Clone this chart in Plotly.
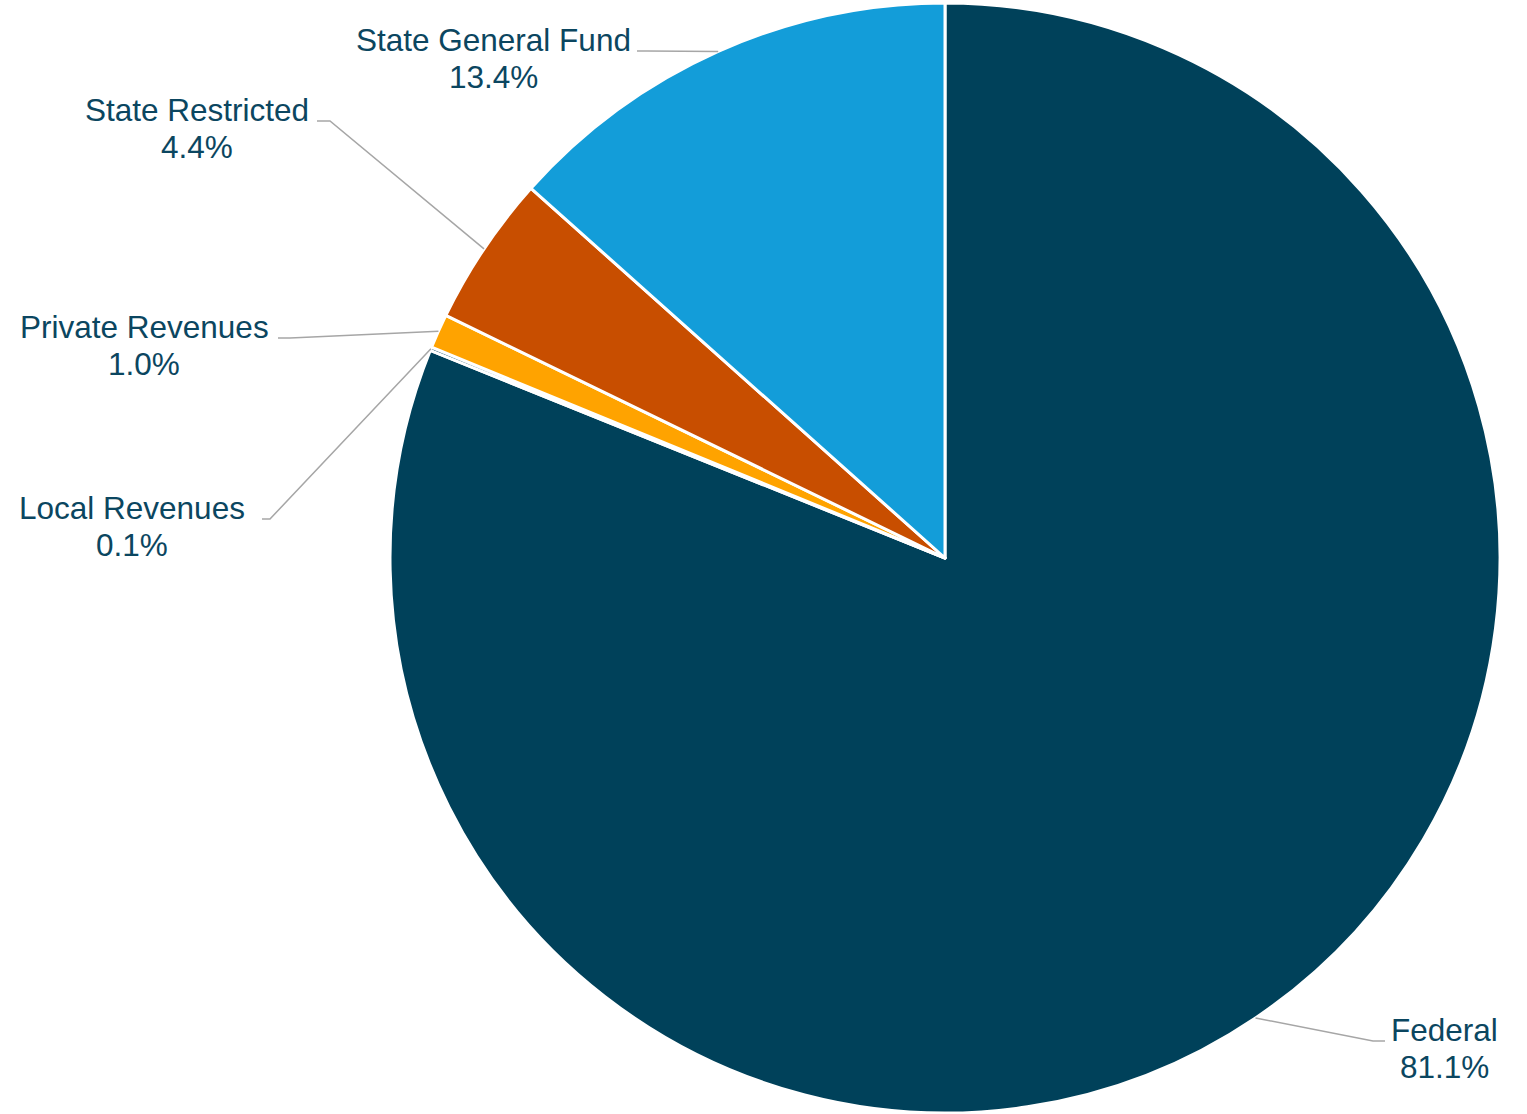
import math
import plotly.graph_objects as go

# ---- data ----
categories = ["Federal", "Local Revenues", "Private Revenues", "State Restricted", "State General Fund"]
shares = [81.1, 0.1, 1.0, 4.4, 13.4]
colors = ["#00415A", "#00415A", "#FFA300", "#C84E00", "#139DD9"]

# ---- layout constants (pixels) ----
W, H = 1527, 1114
CX, CY, R = 945, 558, 555
TEXT_COLOR = "#0B4660"
LEADER_COLOR = "#A6A6A6"
FONT = "Liberation Sans, Arial, sans-serif"
FS = 31.5
LINE_GAP = 37

# label placement: (center x, first line center y, leader start x, leader elbow x)
label_layout = {
    "State General Fund": (493, 40, 637, 647),
    "State Restricted": (197, 110, 317, 330),
    "Private Revenues": (144, 327, 278, 290),
    "Local Revenues": (132, 508, 262, 270),
    "Federal": (1444, 1030, 1385, 1373),
}


def px(x):
    return x / W


def py(y):
    return 1 - y / H


fig = go.Figure(
    go.Pie(
        labels=categories,
        values=shares,
        sort=False,
        direction="clockwise",
        rotation=0,
        textinfo="none",
        marker=dict(colors=colors, line=dict(color="white", width=3)),
        domain=dict(x=[px(CX - R), px(CX + R)], y=[py(CY + R), py(CY - R)]),
        showlegend=False,
        hovertemplate="%{label}: %{value:.1f}%<extra></extra>",
    )
)

total = sum(shares)
cum = 0.0
shapes = []
annotations = []
for name, v in zip(categories, shares):
    mid = (cum + v / 2) / total * 2 * math.pi
    cum += v
    ex = CX + R * math.sin(mid)
    ey = CY - R * math.cos(mid)
    lx, ly, sx, elx = label_layout[name]
    lead_y = ly + 11
    path = f"M {px(sx)},{py(lead_y)} L {px(elx)},{py(lead_y)} L {px(ex)},{py(ey)}"
    shapes.append(dict(type="path", xref="paper", yref="paper", path=path,
                       line=dict(color=LEADER_COLOR, width=1.5)))
    annotations.append(dict(x=px(lx), y=py(ly), xref="paper", yref="paper", text=name,
                            showarrow=False, xanchor="center", yanchor="middle",
                            font=dict(family=FONT, size=FS, color=TEXT_COLOR)))
    annotations.append(dict(x=px(lx), y=py(ly + LINE_GAP), xref="paper", yref="paper",
                            text=f"{v:.1f}%", showarrow=False, xanchor="center", yanchor="middle",
                            font=dict(family=FONT, size=FS, color=TEXT_COLOR)))

fig.update_layout(
    width=W,
    height=H,
    margin=dict(l=0, r=0, t=0, b=0),
    paper_bgcolor="white",
    plot_bgcolor="white",
    shapes=shapes,
    annotations=annotations,
)

fig.write_html("out.html", config={"displayModeBar": False},
               post_script="document.body.style.margin='0';")
